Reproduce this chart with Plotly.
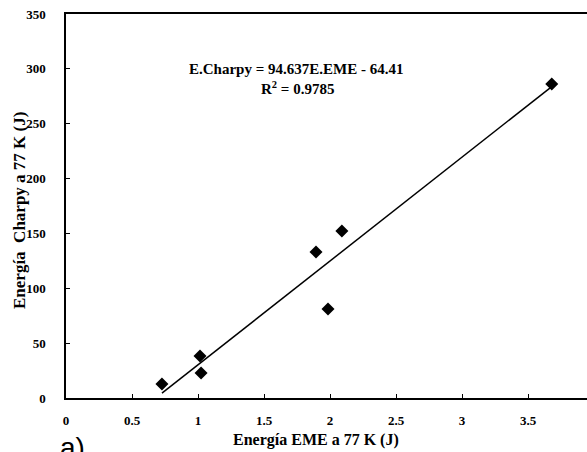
import plotly.graph_objects as go

# Data
eme_energy = [0.727, 1.015, 1.023, 1.894, 1.985, 2.09, 3.68]
charpy_energy = [12.8, 38.3, 22.8, 133.1, 81.1, 152.2, 286.2]
fit_slope = 94.637
fit_intercept = -64.41
r_squared = 0.9785
x_ticks = [0, 0.5, 1, 1.5, 2, 2.5, 3, 3.5]
x_tick_labels = ["0", "0.5", "1", "1.5", "2", "2.5", "3", "3.5"]
y_ticks = [0, 50, 100, 150, 200, 250, 300, 350]

fit_x = [min(eme_energy), max(eme_energy)]
fit_y = [fit_slope * v + fit_intercept for v in fit_x]

SERIF = "Liberation Serif"

fig = go.Figure()
fig.add_trace(go.Scatter(x=fit_x, y=fit_y, mode="lines",
                         line=dict(color="black", width=1.5),
                         showlegend=False, hoverinfo="skip"))
fig.add_trace(go.Scatter(x=eme_energy, y=charpy_energy, mode="markers",
                         marker=dict(symbol="diamond", size=10, color="black"),
                         showlegend=False))

fig.update_layout(
    width=587, height=452,
    margin=dict(l=66, r=0, t=14, b=54),
    paper_bgcolor="white", plot_bgcolor="white",
    font=dict(family=SERIF, color="black"),
    xaxis=dict(range=[0, 521 / 132], tickmode="array", tickvals=x_ticks,
               ticktext=[f"<b>{t}</b>" for t in x_tick_labels],
               ticks="inside", ticklen=4, tickcolor="black",
               showline=True, linecolor="black", linewidth=1.5, mirror=True,
               showgrid=False, zeroline=False,
               tickfont=dict(family=SERIF, size=13), ticklabelstandoff=10),
    yaxis=dict(range=[0, 350], tickmode="array", tickvals=y_ticks,
               ticktext=[f"<b>{t}</b>" for t in y_ticks],
               ticks="inside", ticklen=4, tickcolor="black",
               showline=True, linecolor="black", linewidth=1.5,
               showgrid=False, zeroline=False,
               tickfont=dict(family=SERIF, size=13), ticklabelstandoff=16),
)

fig.add_annotation(xref="paper", yref="paper", x=(316 - 66) / 521, y=-42 / 384,
                   text="<b>Energía EME a 77 K (J)</b>", showarrow=False,
                   font=dict(family=SERIF, size=16), xanchor="center", yanchor="middle")
fig.add_annotation(xref="paper", yref="paper", x=-46 / 521, y=(398 - 211) / 384,
                   text="<b>Energía  Charpy a 77 K (J)</b>", showarrow=False, textangle=-90,
                   font=dict(family=SERIF, size=17), xanchor="center", yanchor="middle")
fig.add_annotation(xref="paper", yref="paper", x=(296 - 66) / 521, y=(398 - 69) / 384,
                   text=f"<b>E.Charpy = {fit_slope}E.EME - {abs(fit_intercept)}</b>",
                   showarrow=False, font=dict(family=SERIF, size=15),
                   xanchor="center", yanchor="middle")
fig.add_annotation(xref="paper", yref="paper", x=(297 - 66) / 521, y=(398 - 88) / 384,
                   text=f"<b>R<sup>2</sup> = {r_squared}</b>",
                   showarrow=False, font=dict(family=SERIF, size=15),
                   xanchor="center", yanchor="middle")
fig.add_annotation(xref="paper", yref="paper", x=(58 - 66) / 521, y=(398 - 430) / 384,
                   text="a)", showarrow=False,
                   font=dict(family="Liberation Sans", size=28),
                   xanchor="left", yanchor="top")

fig.write_html("out.html", config={"displayModeBar": False},
               post_script="document.body.style.margin='0';document.body.style.overflow='hidden';")
